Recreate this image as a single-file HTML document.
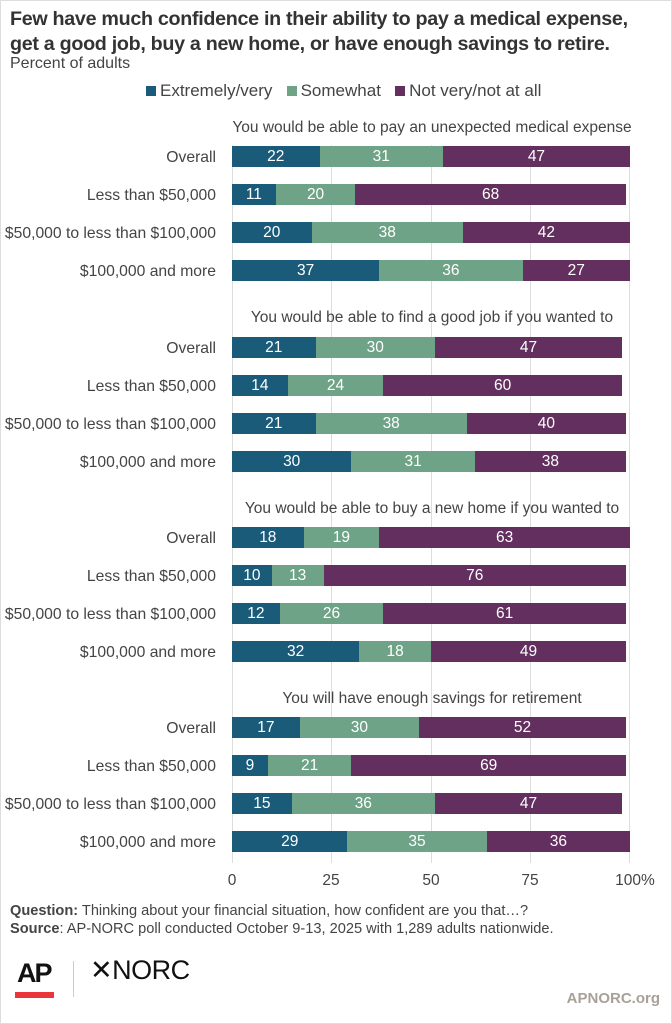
<!DOCTYPE html>
<html><head><meta charset="utf-8"><style>
*{margin:0;padding:0;box-sizing:border-box}
body{width:672px;height:1024px;background:#fff;font-family:"Liberation Sans",sans-serif;position:relative;overflow:hidden;color:#333}
.frame{position:absolute;left:0;top:0;width:672px;height:1024px;border:1px solid #ddd}
.t{position:absolute;left:10px;top:7px;font-size:19.7px;font-weight:bold;color:#333;line-height:25px;letter-spacing:-0.3px}
.sub{position:absolute;left:10px;top:55px;font-size:16px;color:#444}
.leg{position:absolute;top:81px;left:146px;font-size:17px;color:#444;white-space:nowrap}
.leg i{display:inline-block;width:10px;height:10px;margin-right:4px;vertical-align:0px}
.grid{position:absolute;top:145px;height:718px;width:1px;background:#ddd}
.st{position:absolute;left:232px;width:400px;text-align:center;font-size:15.5px;color:#444;white-space:nowrap}
.lab{position:absolute;right:456px;font-size:15.7px;color:#444;white-space:nowrap;line-height:21px}
.bar{position:absolute;left:232px;width:398px;height:21px;display:flex}
.bar span{display:block;height:21px;color:#fff;font-size:15.5px;text-align:center;line-height:21px}
.a{background:#1b5b7a}.b{background:#6fa388}.c{background:#632f5f}
.ax{position:absolute;top:872px;font-size:15.5px;color:#444;transform:translateX(-50%)}
.note{position:absolute;left:10px;font-size:14.6px;color:#444}
</style></head><body>
<div class="frame"></div>
<div class="t">Few have much confidence in their ability to pay a medical expense,<br>get a good job, buy a new home, or have enough savings to retire.</div>
<div class="sub">Percent of adults</div>
<div class="leg"><i class="a"></i>Extremely/very&nbsp;&nbsp; <i class="b"></i>Somewhat&nbsp;&nbsp; <i class="c"></i>Not very/not at all</div>
<div class="grid" style="left:232px"></div><div class="grid" style="left:331px"></div><div class="grid" style="left:431px"></div><div class="grid" style="left:530px"></div><div class="grid" style="left:629px"></div>

<div class="st" style="top:119px">You would be able to pay an unexpected medical expense</div>
<div class="lab" style="top:147px">Overall</div><div class="bar" style="top:146px"><span class="a" style="width:22%">22</span><span class="b" style="width:31%">31</span><span class="c" style="width:47%">47</span></div>
<div class="lab" style="top:185px">Less than $50,000</div><div class="bar" style="top:184px"><span class="a" style="width:11%">11</span><span class="b" style="width:20%">20</span><span class="c" style="width:68%">68</span></div>
<div class="lab" style="top:223px">$50,000 to less than $100,000</div><div class="bar" style="top:222px"><span class="a" style="width:20%">20</span><span class="b" style="width:38%">38</span><span class="c" style="width:42%">42</span></div>
<div class="lab" style="top:261px">$100,000 and more</div><div class="bar" style="top:260px"><span class="a" style="width:37%">37</span><span class="b" style="width:36%">36</span><span class="c" style="width:27%">27</span></div>

<div class="st" style="top:309px">You would be able to find a good job if you wanted to</div>
<div class="lab" style="top:338px">Overall</div><div class="bar" style="top:337px"><span class="a" style="width:21%">21</span><span class="b" style="width:30%">30</span><span class="c" style="width:47%">47</span></div>
<div class="lab" style="top:376px">Less than $50,000</div><div class="bar" style="top:375px"><span class="a" style="width:14%">14</span><span class="b" style="width:24%">24</span><span class="c" style="width:60%">60</span></div>
<div class="lab" style="top:414px">$50,000 to less than $100,000</div><div class="bar" style="top:413px"><span class="a" style="width:21%">21</span><span class="b" style="width:38%">38</span><span class="c" style="width:40%">40</span></div>
<div class="lab" style="top:452px">$100,000 and more</div><div class="bar" style="top:451px"><span class="a" style="width:30%">30</span><span class="b" style="width:31%">31</span><span class="c" style="width:38%">38</span></div>

<div class="st" style="top:500px">You would be able to buy a new home if you wanted to</div>
<div class="lab" style="top:528px">Overall</div><div class="bar" style="top:527px"><span class="a" style="width:18%">18</span><span class="b" style="width:19%">19</span><span class="c" style="width:63%">63</span></div>
<div class="lab" style="top:566px">Less than $50,000</div><div class="bar" style="top:565px"><span class="a" style="width:10%">10</span><span class="b" style="width:13%">13</span><span class="c" style="width:76%">76</span></div>
<div class="lab" style="top:604px">$50,000 to less than $100,000</div><div class="bar" style="top:603px"><span class="a" style="width:12%">12</span><span class="b" style="width:26%">26</span><span class="c" style="width:61%">61</span></div>
<div class="lab" style="top:642px">$100,000 and more</div><div class="bar" style="top:641px"><span class="a" style="width:32%">32</span><span class="b" style="width:18%">18</span><span class="c" style="width:49%">49</span></div>

<div class="st" style="top:690px">You will have enough savings for retirement</div>
<div class="lab" style="top:718px">Overall</div><div class="bar" style="top:717px"><span class="a" style="width:17%">17</span><span class="b" style="width:30%">30</span><span class="c" style="width:52%">52</span></div>
<div class="lab" style="top:756px">Less than $50,000</div><div class="bar" style="top:755px"><span class="a" style="width:9%">9</span><span class="b" style="width:21%">21</span><span class="c" style="width:69%">69</span></div>
<div class="lab" style="top:794px">$50,000 to less than $100,000</div><div class="bar" style="top:793px"><span class="a" style="width:15%">15</span><span class="b" style="width:36%">36</span><span class="c" style="width:47%">47</span></div>
<div class="lab" style="top:832px">$100,000 and more</div><div class="bar" style="top:831px"><span class="a" style="width:29%">29</span><span class="b" style="width:35%">35</span><span class="c" style="width:36%">36</span></div>

<div class="ax" style="left:232px">0</div><div class="ax" style="left:331px">25</div><div class="ax" style="left:431px">50</div><div class="ax" style="left:530px">75</div><div class="ax" style="left:635px">100%</div>

<div class="note" style="top:903px"><b>Question:</b> Thinking about your financial situation, how confident are you that…?</div>
<div class="note" style="top:921px"><b>Source</b>: AP-NORC poll conducted October 9-13, 2025 with 1,289 adults nationwide.</div>
<div style="position:absolute;left:17px;top:958px;font-size:27px;font-weight:bold;color:#111;letter-spacing:-2px">AP</div>
<div style="position:absolute;left:15px;top:992px;width:39px;height:6px;background:#e8363a"></div>
<div style="position:absolute;left:73px;top:961px;width:1px;height:36px;background:#ccc"></div>
<div style="position:absolute;left:90px;top:955px;font-size:27px;color:#111;letter-spacing:-0.5px">✕NORC</div>
<div style="position:absolute;right:12px;top:990px;font-size:15px;font-weight:bold;color:#a8a198">APNORC.org</div>
</body></html>
